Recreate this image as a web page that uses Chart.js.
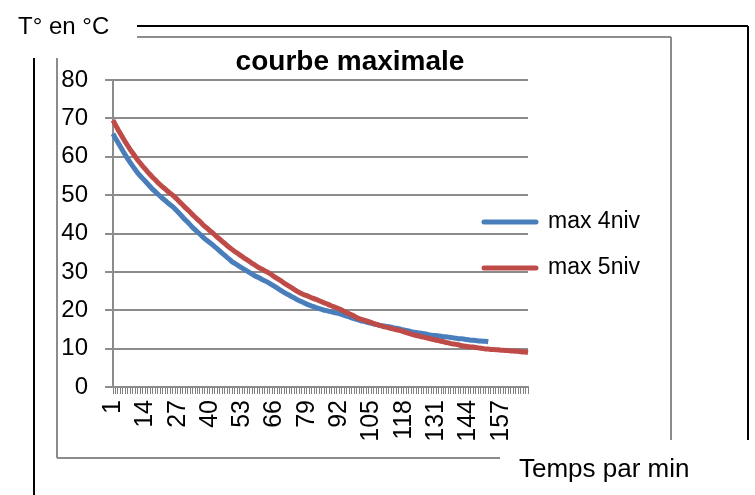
<!DOCTYPE html>
<html>
<head>
<meta charset="utf-8">
<script src="https://cdn.jsdelivr.net/npm/chart.js@4.4.1/dist/chart.umd.min.js"></script>
<style>
    html, body { margin: 0; padding: 0; background: #fff; }
    #chart-max { display: block; }
</style>
</head>
<body>
<canvas id="chart-max" width="755" height="495"></canvas>
<script>
// minutes 1..168 on the category axis
var minutes = [];
for (var m = 1; m <= 168; m++) minutes.push(String(m));

var xTickLabels = ["1", "14", "27", "40", "53", "66", "79", "92", "105", "118", "131", "144", "157"];
var yTicks = [0, 10, 20, 30, 40, 50, 60, 70, 80];

var max4niv = [
    66.0, 64.8, 63.7, 62.6, 61.5, 60.4, 59.4, 58.4, 57.5, 56.6,
    55.7, 55.0, 54.3, 53.6, 52.9, 52.2, 51.5, 50.9, 50.3, 49.7,
    49.1, 48.6, 48.0, 47.5, 47.0, 46.4, 45.7, 45.0, 44.3, 43.6,
    43.0, 42.3, 41.6, 41.0, 40.4, 39.8, 39.2, 38.6, 38.1, 37.6,
    37.1, 36.5, 36.0, 35.4, 34.8, 34.3, 33.7, 33.2, 32.6, 32.2,
    31.8, 31.4, 31.0, 30.6, 30.2, 29.8, 29.4, 29.0, 28.7, 28.4,
    28.0, 27.7, 27.4, 27.0, 26.6, 26.2, 25.8, 25.4, 25.0, 24.6,
    24.2, 23.9, 23.5, 23.2, 22.8, 22.5, 22.2, 21.9, 21.6, 21.3,
    21.1, 20.9, 20.6, 20.4, 20.2, 20.0, 19.9, 19.7, 19.6, 19.4,
    19.3, 19.1, 18.9, 18.7, 18.5, 18.3, 18.0, 17.8, 17.6, 17.4,
    17.2, 17.1, 16.9, 16.7, 16.6, 16.4, 16.3, 16.1, 16.0, 15.9,
    15.8, 15.7, 15.6, 15.4, 15.3, 15.2, 15.0, 14.9, 14.7, 14.6,
    14.4, 14.3, 14.2, 14.1, 14.0, 13.9, 13.8, 13.6, 13.5, 13.4,
    13.4, 13.3, 13.2, 13.1, 13.1, 13.0, 12.9, 12.8, 12.7, 12.6,
    12.6, 12.5, 12.4, 12.3, 12.2, 12.2, 12.1, 12.0, 12.0, 11.9,
    11.9, 11.8
];

var max5niv = [
    69.5, 68.3, 67.1, 66.0, 64.9, 63.8, 62.8, 61.8, 60.9, 60.0,
    59.1, 58.3, 57.5, 56.8, 56.0, 55.3, 54.6, 54.0, 53.3, 52.7,
    52.1, 51.6, 51.0, 50.5, 50.0, 49.4, 48.8, 48.1, 47.5, 46.8,
    46.2, 45.6, 44.9, 44.3, 43.7, 43.1, 42.4, 41.8, 41.3, 40.7,
    40.2, 39.6, 39.0, 38.5, 37.9, 37.4, 36.8, 36.3, 35.8, 35.3,
    34.9, 34.4, 34.0, 33.5, 33.1, 32.7, 32.2, 31.8, 31.4, 31.0,
    30.7, 30.3, 30.0, 29.6, 29.2, 28.7, 28.3, 27.9, 27.5, 27.0,
    26.6, 26.2, 25.8, 25.4, 25.0, 24.6, 24.3, 24.0, 23.8, 23.5,
    23.2, 23.0, 22.8, 22.5, 22.2, 21.9, 21.7, 21.4, 21.1, 20.9,
    20.6, 20.4, 20.1, 19.7, 19.4, 19.1, 18.8, 18.5, 18.1, 17.8,
    17.6, 17.4, 17.2, 17.0, 16.8, 16.5, 16.3, 16.1, 15.9, 15.7,
    15.6, 15.4, 15.2, 15.1, 14.9, 14.8, 14.6, 14.4, 14.2, 14.0,
    13.8, 13.6, 13.4, 13.3, 13.1, 13.0, 12.8, 12.7, 12.5, 12.4,
    12.2, 12.1, 11.9, 11.8, 11.6, 11.5, 11.3, 11.2, 11.1, 11.0,
    10.8, 10.7, 10.6, 10.5, 10.4, 10.4, 10.3, 10.2, 10.1, 10.0,
    9.9, 9.9, 9.8, 9.8, 9.7, 9.7, 9.6, 9.6, 9.5, 9.5,
    9.4, 9.4, 9.3, 9.3, 9.2, 9.1, 9.1, 9.0
];

var FONT = "'Liberation Sans', Arial, sans-serif";
Chart.defaults.font.family = FONT;
Chart.defaults.color = '#000';

// frames, texts and legend of the original sheet
var decor = {
    id: 'decor',
    afterDraw: function (chart) {
        var ctx = chart.ctx;
        ctx.save();

        function line(x1, y1, x2, y2, color, w) {
            ctx.beginPath();
            ctx.strokeStyle = color;
            ctx.lineWidth = w;
            ctx.moveTo(x1, y1);
            ctx.lineTo(x2, y2);
            ctx.stroke();
        }

        // outer black frame
        line(137, 26, 748, 26, '#000', 2);
        line(748, 26, 748, 440, '#000', 2);
        line(34, 58, 34, 495, '#000', 2);
        // grey chart frame
        line(137, 37, 671, 37, '#8c8c8c', 2);
        line(671, 37, 671, 440, '#8c8c8c', 2);
        line(57, 58, 57, 458, '#8c8c8c', 2);
        line(57, 458, 500, 458, '#8c8c8c', 2);

        ctx.fillStyle = '#000';
        ctx.textBaseline = 'middle';
        ctx.textAlign = 'left';
        ctx.font = '24px ' + FONT;
        ctx.fillText('T° en °C', 18, 27);
        ctx.font = '26px ' + FONT;
        ctx.fillText('Temps par min', 519, 470);

        ctx.textAlign = 'center';
        ctx.font = 'bold 28px ' + FONT;
        ctx.fillText('courbe maximale', 350, 62);

        // legend
        var ys = [222, 268];
        chart.data.datasets.forEach(function (ds, i) {
            ctx.beginPath();
            ctx.strokeStyle = ds.borderColor;
            ctx.lineWidth = 5;
            ctx.lineCap = 'round';
            ctx.moveTo(484, ys[i]);
            ctx.lineTo(536, ys[i]);
            ctx.stroke();
            ctx.textAlign = 'left';
            ctx.font = '23px ' + FONT;
            ctx.fillText(ds.label, 548, ys[i]);
        });

        ctx.restore();
    }
};

var chartmax = document.getElementById('chart-max').getContext('2d');

var ChartMax = new Chart(chartmax, {
    type: 'line',
    data: {
        labels: minutes,
        datasets: [{
            label: 'max 4niv',
            data: max4niv,
            borderColor: '#4a7ebb',
            borderWidth: 5,
            pointRadius: 0,
            tension: 0,
            clip: false,
            order: 2
        }, {
            label: 'max 5niv',
            data: max5niv,
            borderColor: '#be4b48',
            borderWidth: 5,
            pointRadius: 0,
            tension: 0,
            clip: false,
            order: 1
        }]
    },
    options: {
        responsive: false,
        animation: false,
        layout: {
            padding: { left: 0, top: 80, right: 227, bottom: 0 }
        },
        plugins: {
            legend: { display: false },
            title: { display: false },
            tooltip: { enabled: false }
        },
        scales: {
            x: {
                type: 'category',
                offset: false,
                afterFit: function (scale) { scale.height = 108; },
                grid: {
                    drawOnChartArea: false,
                    drawTicks: true,
                    tickLength: 7,
                    color: '#7f7f7f',
                    lineWidth: 1
                },
                border: { color: '#8c8c8c', width: 2 },
                ticks: {
                    autoSkip: false,
                    minRotation: 90,
                    maxRotation: 90,
                    padding: 6,
                    font: { size: 25 },
                    callback: function (value) {
                        var lab = this.getLabelForValue(value);
                        return xTickLabels.indexOf(lab) >= 0 ? lab : '';
                    }
                }
            },
            y: {
                min: 0,
                max: 80,
                afterFit: function (scale) { scale.width = 113; },
                afterBuildTicks: function (scale) {
                    scale.ticks = yTicks.map(function (v) { return { value: v }; });
                },
                grid: {
                    color: '#8c8c8c',
                    lineWidth: 2,
                    tickLength: 8
                },
                border: { color: '#8c8c8c', width: 2 },
                ticks: {
                    padding: 17,
                    font: { size: 24 }
                }
            }
        }
    },
    plugins: [decor]
});
</script>
</body>
</html>
